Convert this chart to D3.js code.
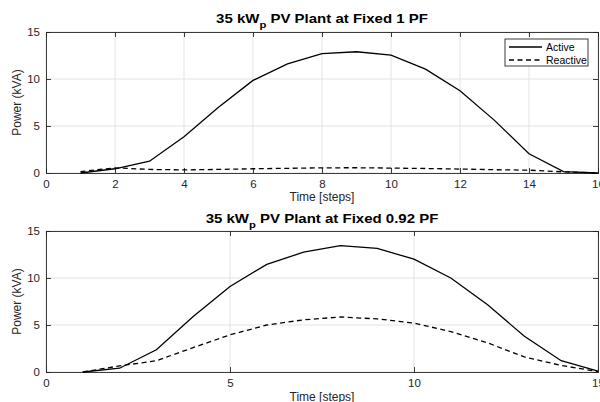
<!DOCTYPE html>
<html><head><meta charset="utf-8">
<script src="https://cdn.jsdelivr.net/npm/d3@7"></script>
<style>
body{margin:0;background:#fff;}
text{font-family:"Liberation Sans",Arial,sans-serif;}
</style></head>
<body>
<svg id="c" width="600" height="402"></svg>
<script>
// Data
const stepsTop = [1,2,3,4,5,6,7,8,9,10,11,12,13,14,15,16];
const activeTop = [0.0,0.45,1.25,3.85,7.0,9.85,11.6,12.7,12.9,12.55,11.05,8.75,5.6,2.05,0.15,0.0];
const reactiveTop = [0.15,0.55,0.38,0.33,0.38,0.45,0.5,0.55,0.56,0.52,0.48,0.42,0.35,0.3,0.12,0.0];
const stepsBottom = [1,2,3,4,5,6,7,8,9,10,11,12,13,14,15];
const activeBottom = [0.0,0.4,2.37,5.9,9.1,11.45,12.75,13.45,13.15,12.0,10.0,7.15,3.8,1.2,0.1];
const reactiveBottom = [0.0,0.65,1.2,2.6,3.95,5.0,5.55,5.85,5.65,5.2,4.3,3.1,1.6,0.7,0.05];
const xTicksTop = [0,2,4,6,8,10,12,14,16];
const xTicksBottom = [0,5,10,15];
const yTicks = [0,5,10,15];
const titles = [["35 kW","p"," PV Plant at Fixed 1 PF"],["35 kW","p"," PV Plant at Fixed 0.92 PF"]];
const legendLabels = ["Active","Reactive"];

const svg = d3.select("#c");
const axisColor = "#262626";
const gridColor = "#e3e3e3";

function panel(cfg){
  const {top,bottom,left,right,xDomain,xTicks,steps,active,reactive,title,titleY,xlabY,legend} = cfg;
  const x = d3.scaleLinear().domain(xDomain).range([left,right]);
  const y = d3.scaleLinear().domain([0,15]).range([bottom,top]);
  const g = svg.append("g");
  // grid
  g.selectAll(".gx").data(xTicks).join("line")
    .attr("x1",d=>x(d)).attr("x2",d=>x(d)).attr("y1",top).attr("y2",bottom)
    .attr("stroke",gridColor).attr("stroke-width",1);
  g.selectAll(".gy").data(yTicks).join("line")
    .attr("y1",d=>y(d)).attr("y2",d=>y(d)).attr("x1",left).attr("x2",right)
    .attr("stroke",gridColor).attr("stroke-width",1);
  // axes
  const xa = g.append("g").attr("transform",`translate(0,${bottom})`)
    .call(d3.axisBottom(x).tickValues(xTicks).tickSize(-5).tickPadding(7).tickFormat(d3.format("d")));
  const xt = g.append("g").attr("transform",`translate(0,${top})`)
    .call(d3.axisTop(x).tickValues(xTicks).tickSize(-5).tickFormat(""));
  const ya = g.append("g").attr("transform",`translate(${left},0)`)
    .call(d3.axisLeft(y).tickValues(yTicks).tickSize(-5).tickPadding(6));
  const yr = g.append("g").attr("transform",`translate(${right},0)`)
    .call(d3.axisRight(y).tickValues(yTicks).tickSize(-5).tickFormat(""));
  [xa,xt,ya,yr].forEach(a=>{
    a.select(".domain").attr("stroke",axisColor).attr("stroke-width",0.9);
    a.selectAll(".tick line").attr("stroke",axisColor).attr("stroke-width",0.9);
    a.selectAll("text").attr("fill",axisColor).style("font-size","11.5px").style("font-family","Liberation Sans, Arial, sans-serif");
  });
  // lines
  const line = d3.line().x((d,i)=>x(steps[i])).y(d=>y(d));
  g.append("path").datum(active).attr("d",line).attr("fill","none")
    .attr("stroke","#000").attr("stroke-width",1.3);
  g.append("path").datum(reactive).attr("d",line).attr("fill","none")
    .attr("stroke","#000").attr("stroke-width",1.3).attr("stroke-dasharray","5,3.5");
  // title (reference text is horizontally stretched)
  const t = g.append("text").attr("transform",`translate(${(left+right)/2},${titleY}) scale(1.25,1)`)
    .attr("text-anchor","middle").style("font-size","12px").style("font-weight","bold").attr("fill","#000");
  t.append("tspan").text(title[0]);
  t.append("tspan").attr("dy",5).style("font-size","9px").text(title[1]);
  t.append("tspan").attr("dy",-5).text(title[2]);
  // labels
  g.append("text").attr("x",(left+right)/2).attr("y",xlabY).attr("text-anchor","middle")
    .style("font-size","12px").attr("fill",axisColor).text("Time [steps]");
  g.append("text").attr("transform",`translate(21,${(top+bottom)/2}) rotate(-90)`)
    .attr("text-anchor","middle").style("font-size","12px").attr("fill",axisColor).text("Power (kVA)");
  if(legend){
    const lx=505, ly=39, lw=83, lh=27;
    const lg = g.append("g");
    lg.append("rect").attr("x",lx).attr("y",ly).attr("width",lw).attr("height",lh)
      .attr("fill","#fff").attr("stroke",axisColor).attr("stroke-width",0.9);
    legendLabels.forEach((lab,i)=>{
      const yy = ly+8+i*13;
      lg.append("line").attr("x1",lx+4).attr("x2",lx+37).attr("y1",yy).attr("y2",yy)
        .attr("stroke","#000").attr("stroke-width",1.3).attr("stroke-dasharray",i?"5,3.5":null);
      lg.append("text").attr("x",lx+41).attr("y",yy+4).style("font-size","10.5px").attr("fill","#000").text(lab);
    });
  }
}

panel({top:32,bottom:173,left:46,right:598,xDomain:[0,16],xTicks:xTicksTop,steps:stepsTop,
  active:activeTop,reactive:reactiveTop,title:titles[0],titleY:22.5,xlabY:201,legend:true});
panel({top:231,bottom:372,left:46,right:598,xDomain:[0,15],xTicks:xTicksBottom,steps:stepsBottom,
  active:activeBottom,reactive:reactiveBottom,title:titles[1],titleY:223,xlabY:401,legend:false});
</script>
</body></html>
